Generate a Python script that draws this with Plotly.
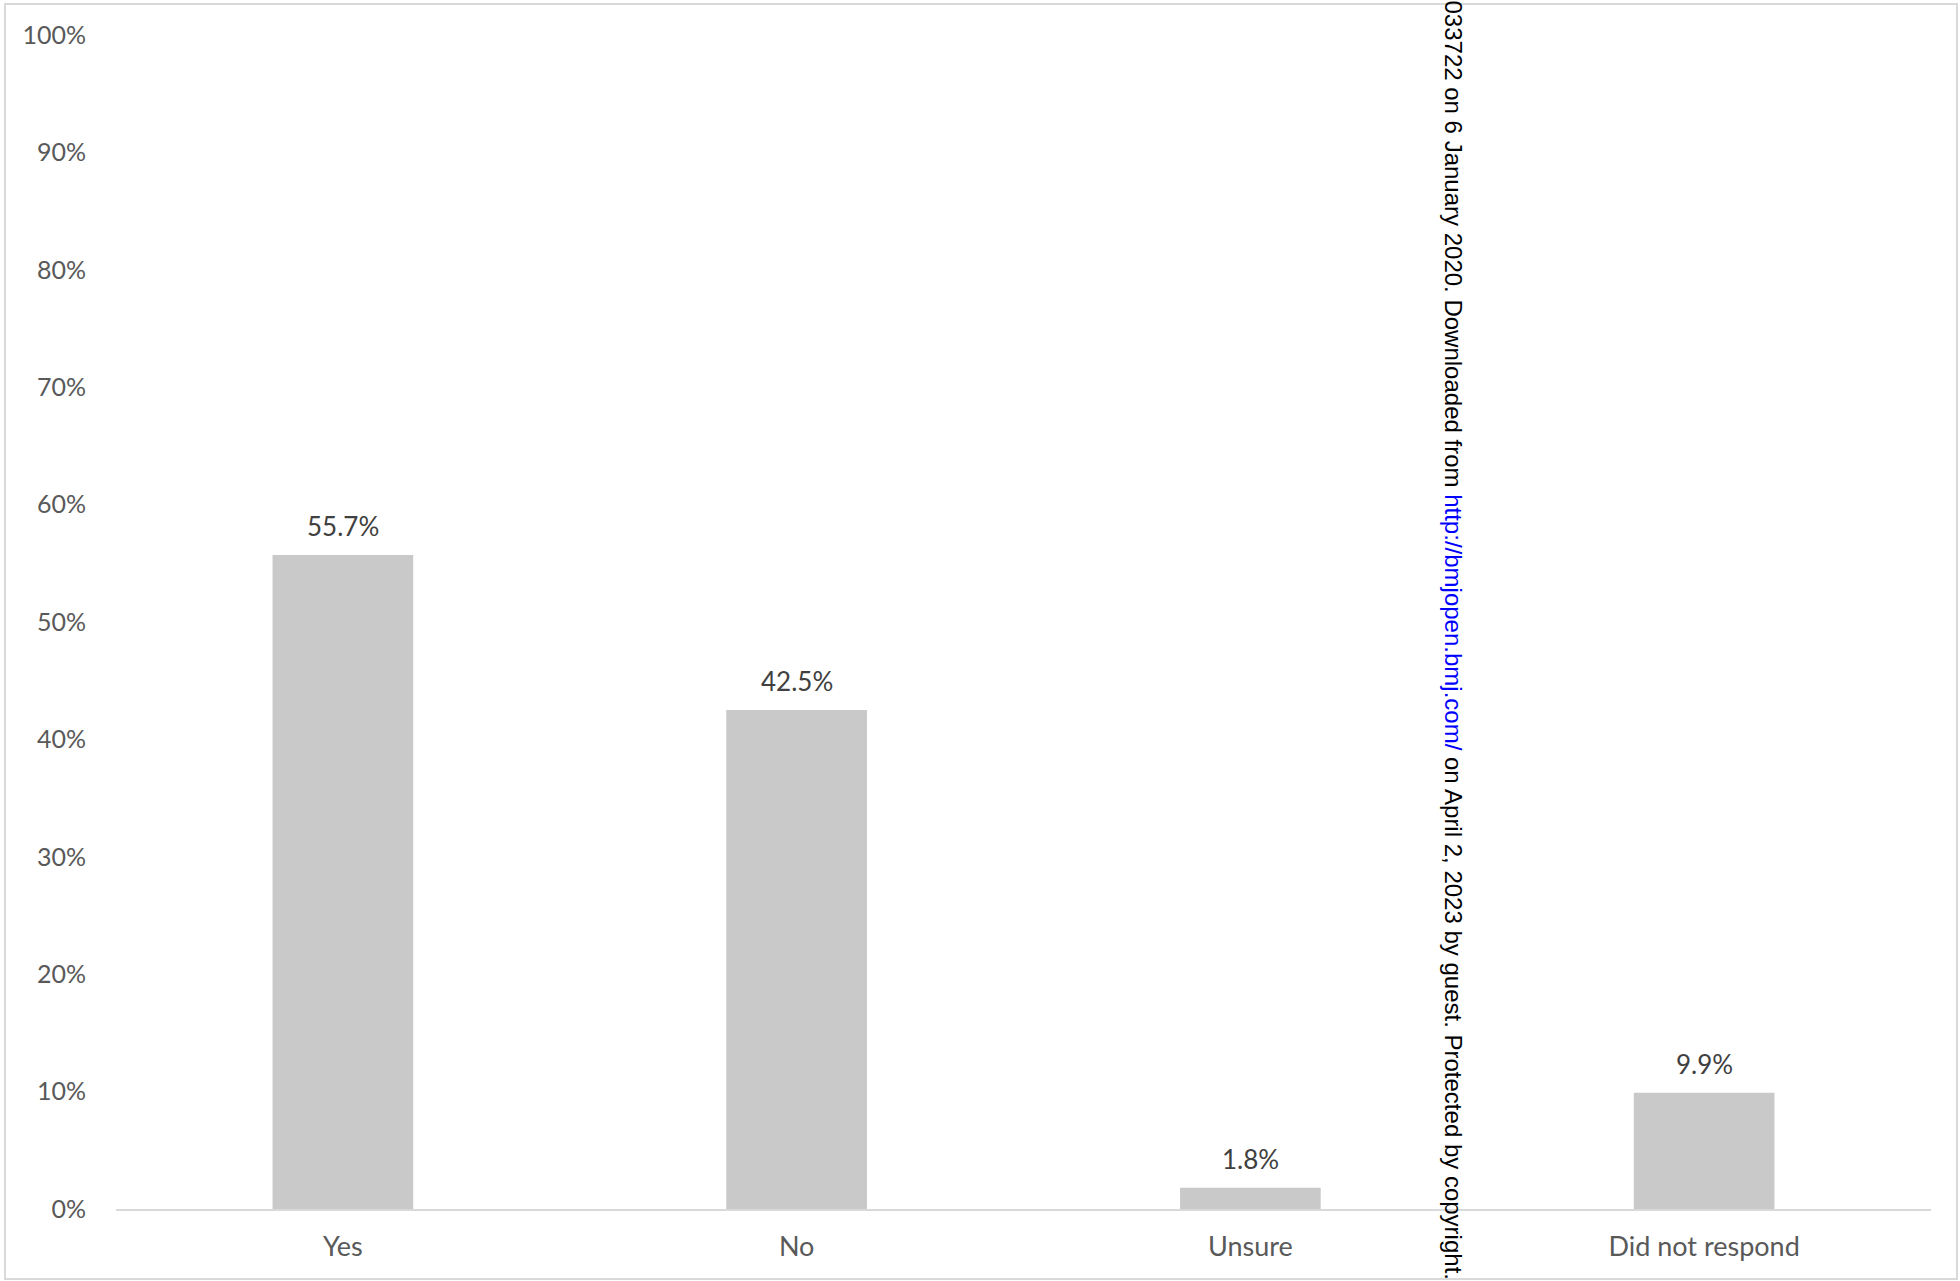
import plotly.graph_objects as go

categories = ["Yes", "No", "Unsure", "Did not respond"]
values = [55.7, 42.5, 1.8, 9.9]
y_ticks = [0, 10, 20, 30, 40, 50, 60, 70, 80, 90, 100]
watermark_pre = "033722 on 6 January 2020. Downloaded from "
watermark_link = "http://bmjopen.bmj.com/"
watermark_post = " on April 2, 2023 by guest. Protected by copyright."

W, H = 1960, 1281
L, R, T, B = 116, 29, 35, 72
pw, ph = W - L - R, H - T - B

def px_x(x):
    return (x - L) / pw

def px_y(y):
    return (H - B - y) / ph

fig = go.Figure()
fig.add_trace(go.Bar(
    x=categories, y=values,
    marker=dict(color="#c9c9c9", line=dict(width=0)),
    hoverinfo="skip",
))

for c, v in zip(categories, values):
    fig.add_annotation(
        x=c, y=v, xref="x", yref="y",
        text=f"{v:.1f}%", showarrow=False,
        yanchor="bottom", yshift=11,
        font=dict(family="Lato", size=26, color="#404040"),
    )

fig.add_annotation(
    x=px_x(1453), y=px_y(1281), xref="paper", yref="paper",
    text=watermark_pre + f"<span style='color:#0000ff'>{watermark_link}</span>" + watermark_post,
    textangle=90, showarrow=False, xanchor="center", yanchor="bottom",
    font=dict(family="Liberation Sans", size=24, color="#000000"),
)

fig.add_shape(
    type="rect", xref="paper", yref="paper",
    x0=px_x(5), x1=px_x(1957), y0=px_y(1279), y1=px_y(4),
    line=dict(color="#d9d9d9", width=2), fillcolor="rgba(0,0,0,0)", layer="below",
)

fig.update_layout(
    width=W, height=H,
    margin=dict(l=L, r=R, t=T, b=B, pad=0),
    paper_bgcolor="white", plot_bgcolor="white",
    bargap=0.69, showlegend=False, hovermode=False,
    font=dict(family="Lato", size=25, color="#595959"),
)
fig.update_xaxes(
    showgrid=False, showline=True, linecolor="#d9d9d9", linewidth=2,
    ticks="", ticklabelstandoff=13,
    tickfont=dict(family="Lato", size=27, color="#595959"),
)
fig.update_yaxes(
    range=[0, 100], tickvals=y_ticks, ticktext=[f"{t}%" for t in y_ticks],
    showgrid=False, showline=False, zeroline=False, ticks="",
    ticklabelstandoff=29,
    tickfont=dict(family="Lato", size=25, color="#595959"),
)

fig.write_html("out.html", config={"displayModeBar": False})
